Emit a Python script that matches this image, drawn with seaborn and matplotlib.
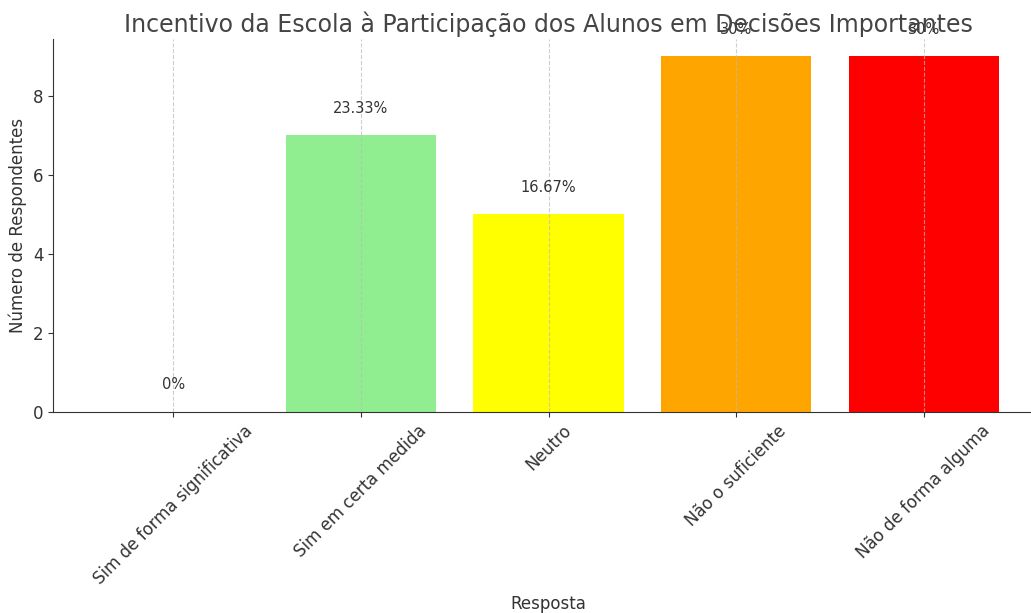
import matplotlib
matplotlib.use("Agg")
import matplotlib.pyplot as plt
import pandas as pd
import seaborn as sns

respostas = [
    "Sim de forma significativa",
    "Sim em certa medida",
    "Neutro",
    "Não o suficiente",
    "Não de forma alguma",
]
respondentes = [0, 7, 5, 9, 9]
percentuais = ["0%", "23.33%", "16.67%", "30%", "30%"]
cores = ["darkgreen", "lightgreen", "yellow", "orange", "red"]

df = pd.DataFrame({"Resposta": respostas, "Respondentes": respondentes})

plt.rcParams.update({
    "font.family": ["DejaVu Sans"],
    "text.color": "#333333",
    "axes.labelcolor": "#333333",
    "axes.edgecolor": "#333333",
    "xtick.color": "#333333",
    "ytick.color": "#333333",
})

fig = plt.figure(figsize=(10.31, 6.13), dpi=100)
ax = fig.add_axes([53 / 1031, (613 - 412) / 613, 991 / 1031, 373.3 / 613])

sns.barplot(data=df, x="Resposta", y="Respondentes", hue="Resposta",
            palette=cores, legend=False, saturation=1, width=0.8, ax=ax)

# rótulos de percentual acima das barras
for i, (v, p) in enumerate(zip(respondentes, percentuais)):
    ax.text(i, v + 0.5, p, ha="center", va="bottom", fontsize=10.5, color="#333333")

ax.set_xlim(-0.64, 4.64)
ax.set_ylim(0, 9.45)
ax.set_yticks([0, 2, 4, 6, 8])
ax.set_title("Incentivo da Escola à Participação dos Alunos em Decisões Importantes",
             fontsize=17, color="#444444", pad=5)
ax.set_xlabel("Resposta", fontsize=12, labelpad=5)
ax.set_ylabel("Número de Respondentes", fontsize=12)
ax.tick_params(axis="both", labelsize=12)
plt.setp(ax.get_xticklabels(), rotation=45, ha="center")

ax.spines["top"].set_visible(False)
ax.spines["right"].set_visible(False)
ax.set_axisbelow(False)
ax.grid(axis="x", linestyle="--", color="#bbbbbb", linewidth=0.8, alpha=0.7)
ax.grid(axis="y", visible=False)

fig.savefig("out.png", dpi=100)
